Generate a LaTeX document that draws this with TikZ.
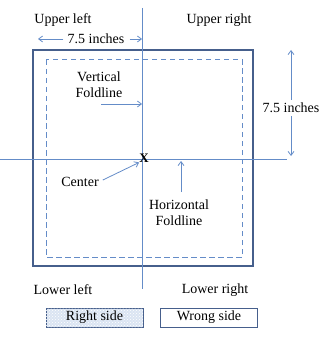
\documentclass[tikz,border=0pt]{standalone}
\usepackage{fontspec}
\setmainfont{Liberation Serif}
\usetikzlibrary{arrows.meta,patterns}
\definecolor{thinblue}{RGB}{100,140,200}
\definecolor{darkblue}{RGB}{70,95,140}
\definecolor{boxfill}{RGB}{218,228,242}
\tikzset{
  lbl/.style={inner sep=0pt,font=\fontsize{14}{16}\selectfont,align=center},
  foldline/.style={draw=thinblue,line width=0.7pt},
  arr/.style={draw=thinblue,line width=0.8pt,-{Straight Barb[length=4pt,width=6pt]}},
  sidebox/.style={draw=darkblue,line width=1pt,minimum width=97pt,minimum height=19pt,inner sep=0pt,font=\fontsize{14}{16}\selectfont}
}
\begin{document}
\begin{tikzpicture}[x=1pt,y=-1pt]
\useasboundingbox (0,0) rectangle (327,342);
% outer and dashed squares
\draw[darkblue,line width=1.3pt] (33,50) rectangle (253,266);
\draw[thinblue,line width=1pt,dash pattern=on 5.5pt off 3.5pt] (46,60) rectangle (242,257);
% fold lines
\coordinate (vt) at (142,8);
\coordinate (vb) at (142,289);
\coordinate (hl) at (0,159);
\coordinate (hr) at (287,159);
\draw[foldline] (vt) -- (vb);
\draw[foldline] (hl) -- (hr);
% corner labels
\node[lbl] (ul) at (63,20) {Upper left};
\node[lbl] (ur) at (219,20) {Upper right};
\node[lbl] (ll) at (63,290) {Lower left};
\node[lbl] (lr) at (215,290) {Lower right};
% horizontal dimension
\node[lbl] (hdim) at (96,39) {7.5 inches};
\coordinate (hdl) at (38,39);
\coordinate (hdr) at (142,39);
\draw[arr] (hdim.west) ++(-4,0) -- (hdl);
\draw[arr] (hdim.east) ++(5,0) -- (hdr);
% vertical dimension
\node[lbl] (vdim) at (291,108) {7.5 inches};
\coordinate (vdt) at (291,50);
\coordinate (vdb) at (291,156);
\draw[arr] (vdim.north) ++(0,-3) -- (vdt);
\draw[arr] (vdim.south) ++(0,3) -- (vdb);
% vertical foldline label
\node[lbl] (vf) at (99,85) {Vertical\\Foldline};
\coordinate (vfa) at (101,104);
\coordinate (vfb) at (142,104);
\draw[arr] (vfa) -- (vfb);
% center
\node[inner sep=0pt,font=\fontsize{13}{14}\selectfont\bfseries] (x) at (144,158) {X};
\node[lbl] (cen) at (80,182) {Center};
\draw[arr] (cen.east) ++(4,-2) -- (x.south west);
% horizontal foldline label
\node[lbl] (hf) at (179,213) {Horizontal\\Foldline};
\coordinate (hfa) at (181,192);
\coordinate (hfb) at (181,161);
\draw[arr] (hfa) -- (hfb);
% side boxes
\node[sidebox,fill=boxfill,postaction={pattern=crosshatch dots,pattern color=white}] (rs) at (94.5,317.5) {Right side};
\node[sidebox,fill=white] (ws) at (209,317.5) {Wrong side};
\end{tikzpicture}
\end{document}
